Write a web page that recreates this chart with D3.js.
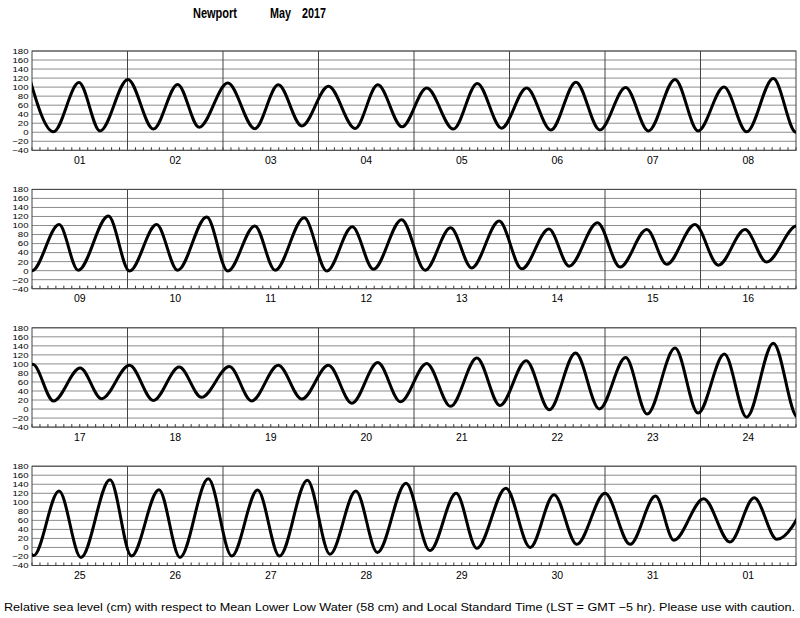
<!DOCTYPE html>
<html>
<head>
<meta charset="utf-8">
<script src="https://cdn.jsdelivr.net/npm/d3@7"></script>
<style>
  html, body { margin: 0; padding: 0; background: #fff; }
  svg { display: block; font-family: "Liberation Sans", Arial, Helvetica, sans-serif; }
</style>
</head>
<body>
<svg id="chart" width="800" height="618"></svg>
<script>
// ---- Data (hours since 2017-05-01 00:00 LST, level in cm) ----
const tideHours = [
  -0.8, 5.4, 11.8, 17.1, 24.1, 30.5, 36.6, 42.0, 49.2, 56.0, 61.9, 67.8, 74.5, 81.2, 86.9, 93.0,
  99.2, 105.9, 111.9, 118.0, 124.3, 130.4, 136.7, 142.7, 149.2, 154.9, 161.6, 167.4, 173.9, 179.6, 186.3, 192.0,
  198.8, 203.6, 211.2, 216.5, 223.3, 228.6, 235.9, 241.2, 248.0, 253.1, 260.4, 266.1, 272.5, 277.8, 284.9,
  290.8, 297.2, 302.5, 309.4, 315.1, 321.9, 327.0, 334.1, 339.8, 346.5, 351.5, 358.6, 364.5, 371.2, 376.6, 384.2,
  389.4, 396.1, 401.5, 408.5, 414.5, 421.0, 426.6, 433.6, 439.2, 445.9, 451.8, 458.5, 464.4, 470.9, 476.6,
  483.2, 489.2, 495.8, 501.6, 508.2, 514.0, 520.6, 526.6, 533.2, 538.6, 545.6, 551.4, 558.0, 563.6, 570.3, 576.4,
  582.8, 588.3, 595.6, 601.0, 607.9, 613.2, 620.3, 626.2, 632.7, 638.2, 645.2, 650.9, 657.4, 662.8, 670.0,
  676.0, 682.6, 687.8, 695.1, 701.2, 707.2, 712.9, 720.0, 726.3, 732.7, 737.3, 744.8, 751.4, 757.5, 763.2, 771.0
];
const tideLevels = [
  125, 1, 110, 3, 117, 7, 106, 11, 109, 8, 105, 14, 102, 8.5, 105, 12,
  98, 7, 108, 9, 98, 5, 111, 5, 99, 3, 117, 3, 100, 1, 119, 0,
  102, 1, 121, -1, 102, 1, 119, -1, 99, 1, 117, -1, 97, 3, 113,
  1, 95, 6, 110, 4, 92, 10, 106, 8, 91, 14, 102, 12, 91, 19, 99,
  18, 91, 23, 97, 19, 93, 26, 94, 18, 97, 22, 97, 13, 103, 16,
  101, 6, 113, 8, 107, -1.5, 124, 0, 114, -11, 135, -9, 122, -18, 146, -18,
  125, -22, 150, -19, 128, -22, 152, -19, 127, -19, 149, -15, 125, -11, 142,
  -7, 120, -2, 131, 0, 117, 7, 120, 7, 114, 16, 108, 12, 110, 18, 110
];
const dayLabels = [
  ["01","02","03","04","05","06","07","08"],
  ["09","10","11","12","13","14","15","16"],
  ["17","18","19","20","21","22","23","24"],
  ["25","26","27","28","29","30","31","01"]
];
const yTicks = [-40, -20, 0, 20, 40, 60, 80, 100, 120, 140, 160, 180];
const titleParts = ["Newport", "May", "2017"];
const footnote = "Relative sea level (cm) with respect to Mean Lower Low Water (58 cm) and Local Standard Time (LST = GMT \u22125 hr). Please use with caution.";

// ---- Layout ----
const svg = d3.select("#chart");
const left = 32, right = 796;
const panelH = 99.3, panelStep = 138.4, firstTop = 51;
const hoursPerPanel = 192;

const tide = tideHours.map((h, i) => ({ h, v: tideLevels[i] }));

// Title
const titleX = [193, 270, 302], titleW = [44, 21, 24];
titleParts.forEach((t, i) => {
  svg.append("text")
    .attr("x", titleX[i]).attr("y", 18)
    .attr("textLength", titleW[i]).attr("lengthAdjust", "spacingAndGlyphs")
    .attr("font-size", 14.5).attr("font-weight", "bold")
    .text(t);
});

dayLabels.forEach((labels, p) => {
  const top = firstTop + p * panelStep;
  const x = d3.scaleLinear().domain([p * hoursPerPanel, (p + 1) * hoursPerPanel]).range([left, right]);
  const y = d3.scaleLinear().domain([-40, 180]).range([top + panelH, top]);
  const g = svg.append("g");

  // horizontal grid
  g.append("g").selectAll("line").data(yTicks).join("line")
    .attr("x1", left).attr("x2", right)
    .attr("y1", d => y(d)).attr("y2", d => y(d))
    .attr("stroke", "#8c8c8c").attr("stroke-width", 1);

  // minor ticks every 2 hours along bottom
  const minor = d3.range(p * hoursPerPanel, (p + 1) * hoursPerPanel + 0.1, 2);
  g.append("g").selectAll("line").data(minor).join("line")
    .attr("x1", d => x(d)).attr("x2", d => x(d))
    .attr("y1", top + panelH).attr("y2", top + panelH - 3)
    .attr("stroke", "#333").attr("stroke-width", 1);

  // day separators
  const days = d3.range(p * hoursPerPanel + 24, (p + 1) * hoursPerPanel, 24);
  g.append("g").selectAll("line").data(days).join("line")
    .attr("x1", d => x(d)).attr("x2", d => x(d))
    .attr("y1", top).attr("y2", top + panelH)
    .attr("stroke", "#444").attr("stroke-width", 1);

  // frame
  g.append("rect").attr("x", left).attr("y", top)
    .attr("width", right - left).attr("height", panelH)
    .attr("fill", "none").attr("stroke", "#444").attr("stroke-width", 1);

  // y axis labels (vertically condensed like the original)
  g.append("g").selectAll("text").data(yTicks).join("text")
    .attr("transform", d => `translate(28.5,${y(d) + 2.9}) scale(0.98,0.78)`)
    .attr("text-anchor", "end").attr("font-size", 9.8)
    .text(d => d < 0 ? "\u2212" + Math.abs(d) : d);

  // day labels
  g.append("g").selectAll("text").data(labels).join("text")
    .attr("x", (d, i) => x(p * hoursPerPanel + i * 24 + 12))
    .attr("y", top + panelH + 13.5)
    .attr("text-anchor", "middle").attr("font-size", 10.5)
    .text(d => d);

  // clip + curve
  const clipId = "clip" + p;
  svg.append("clipPath").attr("id", clipId).append("rect")
    .attr("x", left).attr("y", top - 5).attr("width", right - left).attr("height", panelH + 10);
  const line = d3.line().x(d => x(d.h)).y(d => y(d.v)).curve(d3.curveMonotoneX);
  g.append("path").datum(tide)
    .attr("clip-path", `url(#${clipId})`)
    .attr("d", line)
    .attr("fill", "none").attr("stroke", "#000").attr("stroke-width", 3)
    .attr("stroke-linejoin", "round");
});

// footnote
svg.append("text")
  .attr("x", 4).attr("y", 611)
  .attr("textLength", 791).attr("lengthAdjust", "spacingAndGlyphs")
  .attr("font-size", 11.5)
  .text(footnote);
</script>
</body>
</html>
